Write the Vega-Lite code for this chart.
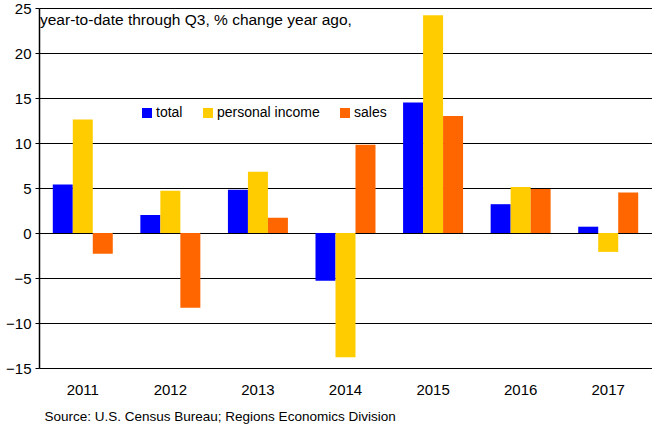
{
  "$schema": "https://vega.github.io/schema/vega-lite/v6.json",
  "width": 613,
  "height": 360,
  "autosize": "none",
  "padding": {"left": 39, "top": 8, "right": 0, "bottom": 57},
  "background": "white",
  "config": {
    "font": "Liberation Sans",
    "view": {"stroke": null}
  },
  "title": {
    "text": "year-to-date through Q3, % change year ago,",
    "anchor": "start",
    "frame": "group",
    "orient": "top",
    "offset": -27,
    "dx": 1,
    "fontSize": 15.5,
    "fontWeight": "normal",
    "color": "#000"
  },
  "data": {
    "values": [
      {"year": "2011", "series": "total", "value": 5.4},
      {"year": "2011", "series": "personal income", "value": 12.6},
      {"year": "2011", "series": "sales", "value": -2.3},
      {"year": "2012", "series": "total", "value": 2.0},
      {"year": "2012", "series": "personal income", "value": 4.7},
      {"year": "2012", "series": "sales", "value": -8.3},
      {"year": "2013", "series": "total", "value": 4.8},
      {"year": "2013", "series": "personal income", "value": 6.8},
      {"year": "2013", "series": "sales", "value": 1.7},
      {"year": "2014", "series": "total", "value": -5.3},
      {"year": "2014", "series": "personal income", "value": -13.8},
      {"year": "2014", "series": "sales", "value": 9.8},
      {"year": "2015", "series": "total", "value": 14.5},
      {"year": "2015", "series": "personal income", "value": 24.2},
      {"year": "2015", "series": "sales", "value": 13.0},
      {"year": "2016", "series": "total", "value": 3.2},
      {"year": "2016", "series": "personal income", "value": 5.1},
      {"year": "2016", "series": "sales", "value": 4.9},
      {"year": "2017", "series": "total", "value": 0.7},
      {"year": "2017", "series": "personal income", "value": -2.1},
      {"year": "2017", "series": "sales", "value": 4.5}
    ]
  },
  "mark": {"type": "bar"},
  "encoding": {
    "x": {
      "field": "year",
      "type": "nominal",
      "scale": {"paddingInner": 0.315, "paddingOuter": 0.1575},
      "axis": {
        "title": "Source: U.S. Census Bureau; Regions Economics Division",
        "titleFontSize": 13.5,
        "titleFontWeight": "normal",
        "titleColor": "#000",
        "titleAnchor": "start",
        "titleAlign": "left",
        "titleX": 5,
        "titleY": 52,
        "titleBaseline": "alphabetic",
        "labelAngle": 0,
        "labelFontSize": 15,
        "labelColor": "#000",
        "labelPadding": 14,
        "ticks": false,
        "domain": false,
        "grid": false
      }
    },
    "xOffset": {
      "field": "series",
      "type": "nominal",
      "sort": ["total", "personal income", "sales"],
      "scale": {"paddingInner": 0, "paddingOuter": 0}
    },
    "y": {
      "field": "value",
      "type": "quantitative",
      "scale": {"domain": [-15, 25], "nice": false, "zero": false},
      "axis": {
        "title": null,
        "values": [-15, -10, -5, 0, 5, 10, 15, 20, 25],
        "labelFontSize": 15,
        "labelColor": "#000",
        "labelPadding": 4,
        "tickColor": "#000",
        "tickSize": 4,
        "domainColor": "#000",
        "domainWidth": 1.5,
        "gridColor": "#000",
        "gridOpacity": 1,
        "gridWidth": 1
      }
    },
    "color": {
      "field": "series",
      "type": "nominal",
      "sort": ["total", "personal income", "sales"],
      "scale": {
        "domain": ["total", "personal income", "sales"],
        "range": ["#0000FF", "#FFCC00", "#FF6600"]
      },
      "legend": {
        "title": null,
        "orient": "none",
        "direction": "horizontal",
        "legendX": 101,
        "legendY": 98,
        "symbolType": "square",
        "symbolSize": 100,
        "symbolStrokeWidth": 0,
        "symbolOpacity": 1,
        "labelFontSize": 14,
        "labelColor": "#000",
        "labelOffset": 2,
        "columnPadding": 18
      }
    }
  }
}
